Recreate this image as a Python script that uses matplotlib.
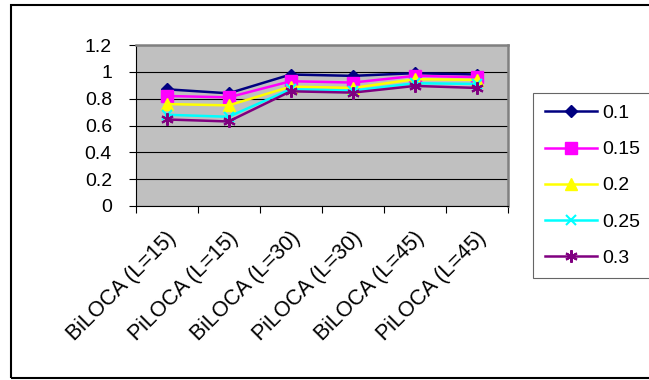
import matplotlib
matplotlib.use("Agg")
import matplotlib.pyplot as plt
import matplotlib.transforms as mtransforms
from matplotlib.patches import Rectangle
import numpy as np

plt.rcParams['font.family'] = ['Liberation Sans', 'DejaVu Sans']

categories = ["BiLOCA (L=15)", "PiLOCA (L=15)", "BiLOCA (L=30)",
              "PiLOCA (L=30)", "BiLOCA (L=45)", "PiLOCA (L=45)"]
series_names = ["0.1", "0.15", "0.2", "0.25", "0.3"]
s01 = [0.87, 0.84, 0.98, 0.97, 0.99, 0.98]
s015 = [0.82, 0.81, 0.93, 0.92, 0.97, 0.96]
s02 = [0.76, 0.75, 0.89, 0.88, 0.945, 0.94]
s025 = [0.68, 0.665, 0.87, 0.86, 0.915, 0.91]
s03 = [0.645, 0.63, 0.855, 0.845, 0.895, 0.88]

colors = ["#000080", "#FF00FF", "#FFFF00", "#00FFFF", "#800080"]
markers = ["D", "s", "^", "x", (6, 2, 0)]
msizes = [6, 8, 8, 7, 9]

fig = plt.figure(figsize=(6.49, 3.80), dpi=100)
ax = fig.add_axes([135.5 / 649, 1 - 206 / 380, (508 - 135.5) / 649, (206 - 45) / 380])
ax.set_facecolor("#C0C0C0")

x = np.arange(len(categories))
for vals, name, c, m, ms in zip([s01, s015, s02, s025, s03], series_names, colors, markers, msizes):
    ax.plot(x, vals, color=c, marker=m, markersize=ms, linewidth=1.8,
            markeredgewidth=1.5 if m in ("x",) or isinstance(m, tuple) else 1,
            label=name, zorder=3)

ax.set_xlim(-0.5, len(categories) - 0.5)
ax.set_ylim(0, 1.2)
ax.set_yticks(np.arange(0, 1.21, 0.2))
ax.set_yticklabels(["0", "0.2", "0.4", "0.6", "0.8", "1", "1.2"])
ax.yaxis.grid(True, color="black", linewidth=0.8)
ax.set_axisbelow(True)

ax.set_xticks(x)
ax.set_xticklabels(categories, rotation=45, ha="right", va="center",
                   rotation_mode="anchor")
ax.set_xticks(np.arange(-0.5, len(categories), 1), minor=True)
ax.tick_params(axis="x", which="major", length=0, pad=21, labelsize=15.5)
ax.tick_params(axis="x", which="minor", length=5, width=0.8, direction="out")
ax.tick_params(axis="y", length=5, width=0.8, direction="out", pad=12, labelsize=14)
offset = mtransforms.ScaledTranslation(6 / 100, 0, fig.dpi_scale_trans)
for lab in ax.get_xticklabels():
    lab.set_transform(lab.get_transform() + offset)

for side in ("top", "right"):
    ax.spines[side].set_color("#808080")
    ax.spines[side].set_linewidth(1.8)
for side in ("left", "bottom"):
    ax.spines[side].set_color("black")
    ax.spines[side].set_linewidth(0.8)

leg = fig.legend(loc="upper left", bbox_to_anchor=(533 / 649, 1 - 93 / 380),
                 fontsize=14, frameon=True, fancybox=False, edgecolor="#404040",
                 handlelength=2.7, handletextpad=0.25, labelspacing=0.95,
                 borderpad=0.6, borderaxespad=0)
leg.get_frame().set_linewidth(0.8)

fig.patches.append(Rectangle((11 / 649, 2 / 380), 1.0, 1 - 7 / 380,
                             transform=fig.transFigure, fill=False,
                             edgecolor="black", linewidth=1.5))

fig.savefig("out.png", dpi=100)
